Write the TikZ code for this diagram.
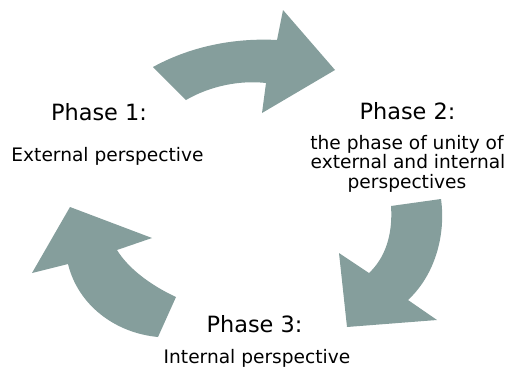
\documentclass[tikz,border=0pt]{standalone}
\usepackage{fontspec}
\setmainfont{DejaVu Sans}
\definecolor{arrowfill}{RGB}{133,158,156}
\begin{document}
\begin{tikzpicture}[x=1pt,y=-1pt,
  bigarrow/.style={fill=arrowfill,draw=none},
  phasetitle/.style={anchor=base,inner sep=0pt,font=\fontsize{22.4}{24}\selectfont},
  phasetext/.style={anchor=base,inner sep=0pt,font=\fontsize{18.6}{20}\selectfont}]
\useasboundingbox (0,0) rectangle (517,367);
% top arrow
\path[bigarrow] (153,67) .. controls (195,44) and (240,38) .. (277,40)
  -- (283,10) -- (335,70) -- (262,113) -- (266,83)
  .. controls (240,80) and (210,86) .. (186,100) -- cycle;
% right arrow
\path[bigarrow] (391,206) -- (441,199) .. controls (446,235) and (435,275) .. (408,300)
  -- (437,320) -- (347,327) -- (339,253) -- (369,273)
  .. controls (385,258) and (393,235) .. (391,206) -- cycle;
% left arrow
\path[bigarrow] (158,337) -- (176,297) .. controls (150,285) and (128,268) .. (117,250)
  -- (152,238) -- (70,207) -- (32,273) -- (68,264)
  .. controls (78,305) and (115,333) .. (158,337) -- cycle;
% texts
\node[phasetitle] (p1) at (99,120) {Phase 1:};
\node[phasetext] (p1t) at (107.5,161) {External perspective};
\node[phasetitle] (p2) at (407.5,119) {Phase 2:};
\node[phasetext] (p2a) at (407,149) {the phase of unity of};
\node[phasetext] (p2b) at (408,168) {external and internal};
\node[phasetext] (p2c) at (407,188) {perspectives};
\node[phasetitle] (p3) at (254.5,332) {Phase 3:};
\node[phasetext] (p3t) at (257,363) {Internal perspective};
\end{tikzpicture}
\end{document}
